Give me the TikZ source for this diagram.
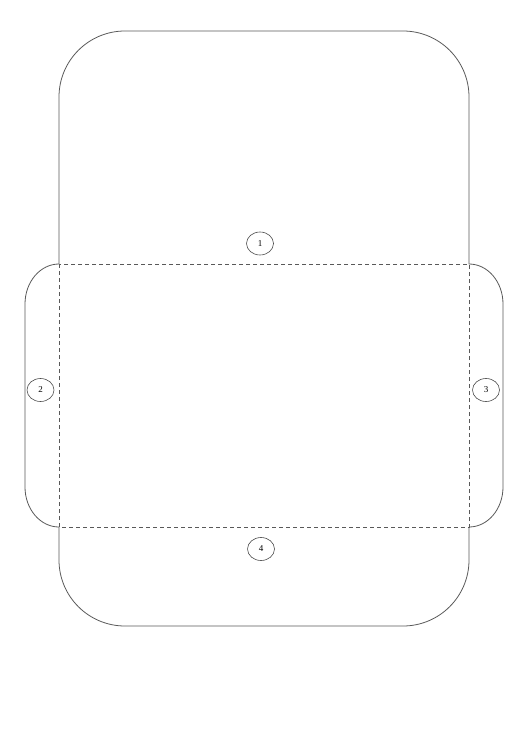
\documentclass[tikz,border=0pt]{standalone}
\usepackage{fontspec}
\setmainfont{Liberation Serif}
\usetikzlibrary{shapes.geometric}
\begin{document}
\begin{tikzpicture}[x=1pt,y=-1pt,
  cut/.style={draw=black!65,line width=0.8pt},
  fold/.style={draw=black!65,line width=0.7pt,dash pattern=on 4pt off 3pt},
  tag/.style={ellipse,draw=black!70,line width=0.6pt,minimum width=27pt,minimum height=23pt,inner sep=0pt,font=\fontsize{9}{10}\selectfont}]
\useasboundingbox (0,0) rectangle (530,749);
% top flap
\draw[cut,rounded corners=66pt] (59,264) -- (59,31) -- (469,31) -- (469,264);
% side flaps
\draw[cut] (59,264) arc[start angle=270,end angle=180,x radius=34,y radius=40] -- (25,487)
  arc[start angle=180,end angle=90,x radius=34,y radius=40];
\draw[cut] (469,264) arc[start angle=-90,end angle=0,x radius=34,y radius=40] -- (503,487)
  arc[start angle=0,end angle=90,x radius=34,y radius=40];
% bottom flap
\draw[cut,rounded corners=66pt] (59,527) -- (59,626) -- (469,626) -- (469,527);
% fold lines
\draw[fold] (59,264) rectangle (469,527);
% labels
\node[tag] (n1) at (260,243.5) {1};
\node[tag] (n2) at (40.5,390) {2};
\node[tag] (n3) at (486,390) {3};
\node[tag] (n4) at (261,549) {4};
\end{tikzpicture}
\end{document}
